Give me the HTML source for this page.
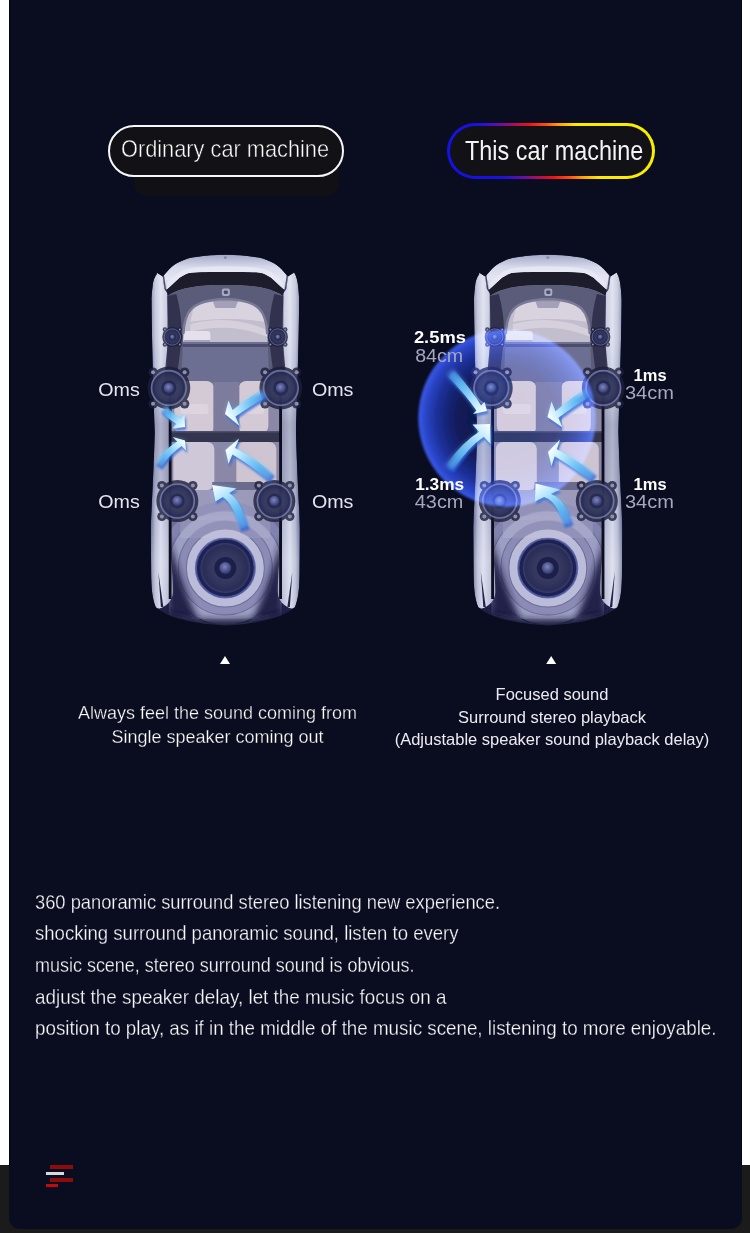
<!DOCTYPE html>
<html><head><meta charset="utf-8">
<style>
*{margin:0;padding:0;box-sizing:border-box}
html,body{width:750px;height:1233px;overflow:hidden;background:#1b1b1b;font-family:"Liberation Sans",sans-serif}
#wl{position:absolute;left:0;top:0;width:9px;height:1165px;background:#fff}
#wr{position:absolute;left:742px;top:0;width:8px;height:1165px;background:#fff}
#panel{position:absolute;left:9px;top:0;width:733px;height:1229px;background:#0a0c1f;border-radius:0 0 11px 11px;overflow:hidden}
.abs{position:absolute}
.t{position:absolute;white-space:nowrap;color:#eceaf2}
</style></head>
<body>
<div id="wl"></div><div id="wr"></div>
<div id="panel"></div>
<div class="abs" style="left:9px;top:0;width:1px;height:1165px;background:#030414"></div><div class="abs" style="left:741px;top:0;width:1px;height:1165px;background:#030414"></div>
<div class="abs" style="left:0;top:0;width:750px;height:1233px">
  <!-- pills -->
  <div class="abs" style="left:134px;top:165px;width:205px;height:31px;background:#111115;border-radius:0 0 13px 13px;filter:blur(0.6px)"></div>
  <div class="abs" style="left:108px;top:125px;width:236px;height:51.5px;border:2.8px solid #f8f8fa;border-radius:26px;background:#121216"></div>
  <div class="t" id="p1" style="left:121px;top:135px;font-size:24px;color:#ffffff;transform:scaleX(0.907);-webkit-text-stroke:0.5px #121216;transform-origin:0 0">Ordinary car machine</div>
  <div class="abs" style="left:447px;top:122.5px;width:208px;height:56px;border-radius:28px;background:linear-gradient(66deg,#1212e4 0%,#1a12dc 24%,#5a10b0 32%,#b01050 40%,#ec1418 46%,#ff5010 53%,#ffa800 59%,#ffe800 66%,#f6f000 100%)"></div>
  <div class="abs" style="left:450px;top:125.5px;width:202px;height:50px;border-radius:25px;background:#121216"></div>
  <div class="t" id="p2" style="left:465px;top:134.5px;font-size:27.5px;color:#f4f4f6;transform:scaleX(0.851);transform-origin:0 0">This car machine</div>
<!--CAR--><svg class="abs" style="left:0;top:0" width="750" height="700" viewBox="0 0 750 700">
<defs>
  <linearGradient id="sideL" x1="0" y1="0" x2="1" y2="0">
    <stop offset="0" stop-color="#6a7098"/>
    <stop offset="0.2" stop-color="#b4b8d2"/>
    <stop offset="0.45" stop-color="#d6d9ea"/>
    <stop offset="0.75" stop-color="#b6bad4"/>
    <stop offset="1" stop-color="#9296b8"/>
  </linearGradient>
  <linearGradient id="sideR" x1="1" y1="0" x2="0" y2="0">
    <stop offset="0" stop-color="#6a7098"/>
    <stop offset="0.2" stop-color="#b4b8d2"/>
    <stop offset="0.45" stop-color="#d6d9ea"/>
    <stop offset="0.75" stop-color="#b6bad4"/>
    <stop offset="1" stop-color="#9296b8"/>
  </linearGradient>
  <linearGradient id="sidev" x1="0" y1="0" x2="0" y2="1">
    <stop offset="0" stop-color="#ffffff" stop-opacity="0.3"/>
    <stop offset="0.2" stop-color="#ffffff" stop-opacity="0.22"/>
    <stop offset="0.3" stop-color="#ffffff" stop-opacity="0"/>
    <stop offset="0.34" stop-color="#3a3e66" stop-opacity="0"/>
    <stop offset="0.45" stop-color="#3a3e66" stop-opacity="0.26"/>
    <stop offset="0.62" stop-color="#3a3e66" stop-opacity="0.2"/>
    <stop offset="0.7" stop-color="#3a3e66" stop-opacity="0"/>
    <stop offset="0.74" stop-color="#ffffff" stop-opacity="0"/>
    <stop offset="0.86" stop-color="#ffffff" stop-opacity="0.22"/>
    <stop offset="1" stop-color="#ffffff" stop-opacity="0.12"/>
  </linearGradient>
  <linearGradient id="hood" x1="0" y1="0" x2="0" y2="1">
    <stop offset="0" stop-color="#a4a8c6"/>
    <stop offset="0.35" stop-color="#d6d9ea"/>
    <stop offset="0.7" stop-color="#e4e6f2"/>
    <stop offset="1" stop-color="#b8bcd6"/>
  </linearGradient>
  <radialGradient id="cone" cx="0.5" cy="0.5" r="0.5">
    <stop offset="0" stop-color="#464a74"/>
    <stop offset="0.6" stop-color="#383c64"/>
    <stop offset="0.9" stop-color="#2c3058"/>
    <stop offset="1" stop-color="#40447a"/>
  </radialGradient>
  <radialGradient id="cap" cx="0.45" cy="0.4" r="0.6">
    <stop offset="0" stop-color="#7e86c0"/>
    <stop offset="1" stop-color="#30356a"/>
  </radialGradient>
  <radialGradient id="subr" cx="0.5" cy="0.5" r="0.5">
    <stop offset="0" stop-color="#c4c4e0"/>
    <stop offset="0.45" stop-color="#c4c4e0"/>
    <stop offset="0.55" stop-color="#a4a4c8"/>
    <stop offset="0.7" stop-color="#b0b0d2"/>
    <stop offset="0.85" stop-color="#9494bc"/>
    <stop offset="1" stop-color="#8e8eb4" stop-opacity="0"/>
  </radialGradient>
  <linearGradient id="rear" x1="0" y1="0" x2="0" y2="1">
    <stop offset="0" stop-color="#6a6c9a" stop-opacity="0"/>
    <stop offset="0.5" stop-color="#3c3e70"/>
    <stop offset="1" stop-color="#22244a"/>
  </linearGradient>
  <filter id="soft" x="0" y="0" width="100%" height="100%"><feGaussianBlur stdDeviation="0.45"/></filter>
  <filter id="rb" x="-20%" y="-20%" width="140%" height="140%"><feGaussianBlur stdDeviation="3"/></filter>
  <clipPath id="carclip"><path d="M6.2 18.6 L12.4 22.6 L18.8 15.2 C22 12 25 9.5 29.5 7.7 C35 5 40 3.5 45.5 3 C55 1.5 65 0.8 75 0.8 C85 0.8 95 1.5 104.5 3 C110 3.5 115 5 120.5 7.7 C125 9.5 128 12 131.2 15.2 L137.6 22.6 L143.8 18.6 C146 22 147 27 147.5 30 C148.5 38 148.8 44 148.8 46 C148.6 80 147.5 120 145.6 178 C147 230 149.5 260 149.5 276 L149.2 320 C149 335 148 345 144.5 353 C135 362 115 369 75 371.5 C35 369 15 362 5.5 353 C2 345 1 335 0.8 320 L0.5 276 C0.5 260 3 230 4.4 178 C2.5 120 1.4 80 1.2 46 C1.2 44 1.5 38 2.5 30 C3 27 4 23 6.5 20 Z"/></clipPath>
  <g id="spk">
    <g fill="#1c1e38" opacity="0.8">
      <circle r="21"/>
      <circle cx="-15.5" cy="-15.5" r="4.6"/><circle cx="15.5" cy="-15.5" r="4.6"/>
      <circle cx="-15.5" cy="15.5" r="4.6"/><circle cx="15.5" cy="15.5" r="4.6"/>
    </g>
    <g fill="#8c90b4"><circle cx="-15.5" cy="-15.5" r="2"/><circle cx="15.5" cy="-15.5" r="2"/><circle cx="-15.5" cy="15.5" r="2"/><circle cx="15.5" cy="15.5" r="2"/></g>
    <circle r="17" fill="url(#cone)" stroke="#7a80b4" stroke-width="1.6" opacity="0.8"/><circle r="14.5" fill="none" stroke="#262a54" stroke-width="1" opacity="0.6"/>
    <circle r="7.5" fill="#20244a" opacity="0.7"/><circle r="5" fill="url(#cap)"/>
  </g>
  <g id="car">
   <g clip-path="url(#carclip)"><g filter="url(#soft)">
    <rect x="0" y="0" width="150" height="372" fill="#24264a"/>
    <!-- cabin base -->
    <rect x="19" y="30" width="112" height="330" fill="#8a88a6"/>
    <!-- dashboard zone -->
    <path d="M30 44 C50 40 100 40 120 44 L124 90 L26 90 Z" fill="#c2bece"/>
    <path d="M44 50 C60 47 90 47 110 50 L114 68 C95 64 60 64 40 68 Z" fill="#d8d3de"/>
    <path d="M62 46 L88 46 L85 54 L65 54 Z" fill="#8e8aa6" opacity="0.7"/>
    <path d="M40 70 C70 62 100 66 124 80 L124 86 C100 74 70 70 40 78 Z" fill="#e2dce6" opacity="0.6"/>
    <rect x="33" y="77" width="27" height="13" rx="3" fill="#e4e1ec"/>
    <rect x="33" y="86" width="27" height="4" rx="1" fill="#a8a6be"/>
    <!-- roof/headrest zone -->
    <path d="M24 88 L126 88 L126 124 C110 136 100 137 75 137 C50 137 40 136 24 124 Z" fill="#6c6e92"/>
    <rect x="24" y="90" width="102" height="3" fill="#4c4c6a"/>
    <!-- front seats -->
    <rect x="24" y="127" width="40" height="53" rx="8" fill="#d4cad6"/>
    <rect x="88" y="127" width="30" height="53" rx="8" fill="#d4cad6"/>
    <rect x="63" y="128" width="26" height="50" fill="#7e7c9c"/>
    <rect x="30" y="150" width="28" height="10" rx="3" fill="#e0dae4" opacity="0.7"/>
    <rect x="92" y="150" width="22" height="10" rx="3" fill="#e0dae4" opacity="0.7"/>
    <!-- rear seats -->
    <rect x="23" y="188" width="41" height="48" rx="7" fill="#cec8d8"/>
    <rect x="86" y="188" width="40" height="46" rx="7" fill="#cec4d2"/>
    <path d="M62 228 L112 228 L112 250 L60 250 Z" fill="#6a6a8c"/>
    <!-- rear zone -->
    <rect x="19" y="250" width="112" height="115" fill="#6c6e98"/>
    <rect x="19" y="236" width="112" height="30" fill="#9c9abb"/>
    <rect x="30" y="262" width="90" height="22" fill="#b2b0ca" opacity="0.6"/>
    
    <circle cx="75" cy="314" r="62" fill="none" stroke="#8e8eb8" stroke-width="9" opacity="0.65"/>
    <circle cx="75" cy="314" r="52" fill="none" stroke="#aaaace" stroke-width="9" opacity="0.8"/>
    <circle cx="75" cy="314" r="43" fill="none" stroke="#9090ba" stroke-width="7" opacity="0.85"/>
    <circle cx="75" cy="314" r="34.5" fill="none" stroke="#c2c2de" stroke-width="8" opacity="0.92"/>
    <path d="M18 282 C26 310 34 338 48 366 L18 366 Z" fill="#1c1e44" opacity="0.95" filter="url(#rb)"/><path d="M132 282 C124 310 116 338 102 366 L132 366 Z" fill="#1c1e44" opacity="0.95" filter="url(#rb)"/>
    <path d="M0 350 C15 362 40 366 75 366 C110 366 135 362 150 350 L150 375 L0 375 Z" fill="#1a1c3c" filter="url(#rb)"/>
    <!-- B bar -->
    <rect x="19" y="177" width="112" height="11" fill="#33344e"/>
    <rect x="19" y="177" width="112" height="1.5" fill="#4e506c"/>
    <!-- side panels -->
    <path d="M6.2 18.6 L12.4 22.6 L14 35 L17.5 40 L19.5 60 L19.5 280 C20 300 22.5 320 22.5 338 C22.5 346 17 352 9 354.5 L5.5 354 C2 345 1 335 0.8 320 L0.5 276 C0.5 260 3 230 4.4 178 C2.5 120 1.4 80 1.2 46 C1.2 44 1.5 38 2.5 30 C3 27 4 23 6.5 20 Z" fill="url(#sideL)"/>
    <path d="M 143.8 18.6 L 137.6 22.6 L 136 35 L 132.5 40 L 130.5 60 L 130.5 280 C 130 300 127.5 320 127.5 338 C 127.5 346 133 352 141 354.5 L 144.5 354 C 148 345 149 335 149.2 320 L 149.5 276 C 149.5 260 147 230 145.6 178 C 147.5 120 148.6 80 148.8 46 C 148.8 44 148.5 38 147.5 30 C 147 27 146 22 143.8 18.6 Z" fill="url(#sideR)"/>
    <path d="M6.2 18.6 L12.4 22.6 L14 35 L17.5 40 L19.5 60 L19.5 280 C20 300 22.5 320 22.5 338 C22.5 346 17 352 9 354.5 L5.5 354 C2 345 1 335 0.8 320 L0.5 276 C0.5 260 3 230 4.4 178 C2.5 120 1.4 80 1.2 46 C1.2 44 1.5 38 2.5 30 C3 27 4 23 6.5 20 Z" fill="url(#sidev)"/><path d="M 143.8 18.6 L 137.6 22.6 L 136 35 L 132.5 40 L 130.5 60 L 130.5 280 C 130 300 127.5 320 127.5 338 C 127.5 346 133 352 141 354.5 L 144.5 354 C 148 345 149 335 149.2 320 L 149.5 276 C 149.5 260 147 230 145.6 178 C 147.5 120 148.6 80 148.8 46 C 148.8 44 148.5 38 147.5 30 C 147 27 146 22 143.8 18.6 Z" fill="url(#sidev)"/>
    <!-- rear notch creases -->
    <path d="M8 318 L13 353 L10.5 353 Z" fill="#22244a"/>
    <path d="M142 318 L137 353 L139.5 353 Z" fill="#22244a"/>
    <!-- hood -->
    <path d="M12.4 22.6 L18.8 15.2 C22 12 25 9.5 29.5 7.7 C35 5 40 3.5 45.5 3 C55 1.5 65 0.8 75 0.8 C85 0.8 95 1.5 104.5 3 C110 3.5 115 5 120.5 7.7 C125 9.5 128 12 131.2 15.2 L137.6 22.6 L136 35 L133.3 35.5 L120.5 23.7 C116 21 113 19.5 110 19 C100 18 90 17.9 75 17.9 C60 17.9 50 18 40 19 C37 19.5 34 21 29.5 23.7 L16.7 35.5 L14 35 Z" fill="url(#hood)"/>
    <path d="M12.2 20.8 L14.2 35 L15.6 35 L13.6 20.6 Z" fill="#4a4c6c"/><path d="M137.8 20.8 L135.8 35 L134.4 35 L136.4 20.6 Z" fill="#4a4c6c"/>
    <circle cx="75" cy="3.5" r="1.6" fill="#8a8eaa"/>
    <path d="M16 29 L29.5 18 C36 14 45 12.5 75 12.5 C105 12.5 114 14 120.5 18 L134 29 L133.3 35.5 L120.5 23.7 C116 21 113 19.5 110 19 C100 18 90 17.9 75 17.9 C60 17.9 50 18 40 19 C37 19.5 34 21 29.5 23.7 L16.7 35.5 Z" fill="#e8eaf4" opacity="0.85"/>
    <!-- cowl dark band -->
    <path d="M16.7 35.5 L29.5 23.7 C34 21 37 19.5 40 19 C50 18 60 17.9 75 17.9 C90 17.9 100 18 110 19 C113 19.5 116 21 120.5 23.7 L133.3 35.5 L133 42 C120 33 100 31 75 31 C50 31 30 33 17 42 Z" fill="#1b1c2c"/>
    <!-- windshield frame U -->
    <path d="M17 42 C30 33 50 31 75 31 C100 31 120 33 133 42 L133 126 L119 126 L117 80 C116 58 110 46 75 45 C40 46 34 58 33 80 L31 126 L17 126 Z" fill="#5a5b7a"/>
    <path d="M17 42 L26 40 C30 55 32 70 31 85 C30 100 27 115 26 130 L14 130 C15 110 17 95 18 82 C18 65 17 52 17 42 Z" fill="#2e2f4a" opacity="0.9"/>
    <path d="M133 42 L124 40 C120 55 118 70 119 85 C120 100 123 115 124 130 L136 130 C135 110 133 95 132 82 C132 65 133 52 133 42 Z" fill="#2e2f4a" opacity="0.9"/>
    <path d="M33 80 C34 58 40 46 75 45 C110 46 116 58 117 80" fill="none" stroke="#7a7a98" stroke-width="2.5"/>
    <rect x="71.5" y="34.5" width="8" height="7.5" rx="2" fill="#a8aac2"/>
    <rect x="73.5" y="36.5" width="4" height="3.5" rx="1" fill="#4a4c6a"/>
    <!-- door lines -->
    <rect x="18.4" y="140" width="2.8" height="205" fill="#08081a"/>
    <rect x="128.8" y="140" width="2.8" height="205" fill="#08081a"/>
   </g></g>
    <!-- speakers -->
    <use href="#spk" transform="translate(22 83) scale(0.48)"/>
    <use href="#spk" transform="translate(127.5 83) scale(0.48)"/>
    <use href="#spk" transform="translate(18.5 134) scale(1.02)"/>
    <use href="#spk" transform="translate(130.5 134) scale(1.02)"/>
    <use href="#spk" transform="translate(27 247)"/>
    <use href="#spk" transform="translate(124 247)"/>
    <!-- sub -->
    <circle cx="75" cy="314" r="29" fill="#1e2250" stroke="#4452a8" stroke-width="1.2"/>
    <circle cx="75" cy="314" r="25" fill="url(#cone)" opacity="0.8"/>
    <circle cx="75" cy="314" r="11" fill="#1c1f48"/>
    <circle cx="75" cy="314" r="6" fill="url(#cap)"/>
  </g>
</defs>
<use href="#car" transform="translate(150.35 254)"/>
<use href="#car" transform="translate(472.8 254)"/>

<defs>
 <radialGradient id="bcirc" cx="0.5" cy="0.5" r="0.5">
  <stop offset="0" stop-color="#0c1a80" stop-opacity="0.3"/>
  <stop offset="0.55" stop-color="#12249a" stop-opacity="0.42"/>
  <stop offset="0.78" stop-color="#1a34c0" stop-opacity="0.7"/>
  <stop offset="0.92" stop-color="#2644d8" stop-opacity="0.9"/>
  <stop offset="0.985" stop-color="#3050e2" stop-opacity="1"/>
  <stop offset="1" stop-color="#3050e2" stop-opacity="0.5"/>
 </radialGradient>
 <filter id="cblur"><feGaussianBlur stdDeviation="0.8"/></filter>
</defs>
<circle cx="507" cy="418" r="89" fill="url(#bcirc)" filter="url(#cblur)" style="mix-blend-mode:screen"/>
<defs><filter id="aglow" x="-50%" y="-50%" width="200%" height="200%"><feGaussianBlur stdDeviation="2"/></filter><filter id="ashadow" x="-50%" y="-50%" width="200%" height="200%"><feGaussianBlur stdDeviation="1.3"/></filter><linearGradient id="ag0" gradientUnits="userSpaceOnUse" x1="163.0" y1="408.0" x2="185.0" y2="427.0"><stop offset="0" stop-color="#5ab8f4" stop-opacity="0"/><stop offset="0.3" stop-color="#62c0f6" stop-opacity="0.8"/><stop offset="0.7" stop-color="#b4e6ff"/><stop offset="1" stop-color="#ffffff"/></linearGradient><linearGradient id="ag1" gradientUnits="userSpaceOnUse" x1="264.0" y1="393.0" x2="225.0" y2="414.0"><stop offset="0" stop-color="#5ab8f4" stop-opacity="0"/><stop offset="0.3" stop-color="#62c0f6" stop-opacity="0.8"/><stop offset="0.7" stop-color="#b4e6ff"/><stop offset="1" stop-color="#ffffff"/></linearGradient><linearGradient id="ag2" gradientUnits="userSpaceOnUse" x1="158.0" y1="465.0" x2="185.0" y2="440.5"><stop offset="0" stop-color="#5ab8f4" stop-opacity="0"/><stop offset="0.3" stop-color="#62c0f6" stop-opacity="0.8"/><stop offset="0.7" stop-color="#b4e6ff"/><stop offset="1" stop-color="#ffffff"/></linearGradient><linearGradient id="ag3" gradientUnits="userSpaceOnUse" x1="271.0" y1="477.0" x2="225.5" y2="450.0"><stop offset="0" stop-color="#5ab8f4" stop-opacity="0"/><stop offset="0.3" stop-color="#62c0f6" stop-opacity="0.8"/><stop offset="0.7" stop-color="#b4e6ff"/><stop offset="1" stop-color="#ffffff"/></linearGradient><linearGradient id="ag4" gradientUnits="userSpaceOnUse" x1="244.0" y1="528.0" x2="212.0" y2="485.0"><stop offset="0" stop-color="#5ab8f4" stop-opacity="0"/><stop offset="0.3" stop-color="#62c0f6" stop-opacity="0.8"/><stop offset="0.7" stop-color="#b4e6ff"/><stop offset="1" stop-color="#ffffff"/></linearGradient><linearGradient id="ag10" gradientUnits="userSpaceOnUse" x1="450.0" y1="372.0" x2="487.0" y2="411.0"><stop offset="0" stop-color="#5ab8f4" stop-opacity="0"/><stop offset="0.3" stop-color="#62c0f6" stop-opacity="0.8"/><stop offset="0.7" stop-color="#b4e6ff"/><stop offset="1" stop-color="#ffffff"/></linearGradient><linearGradient id="ag11" gradientUnits="userSpaceOnUse" x1="587.0" y1="393.0" x2="547.5" y2="417.0"><stop offset="0" stop-color="#5ab8f4" stop-opacity="0"/><stop offset="0.3" stop-color="#62c0f6" stop-opacity="0.8"/><stop offset="0.7" stop-color="#b4e6ff"/><stop offset="1" stop-color="#ffffff"/></linearGradient><linearGradient id="ag12" gradientUnits="userSpaceOnUse" x1="449.0" y1="468.0" x2="490.0" y2="424.0"><stop offset="0" stop-color="#5ab8f4" stop-opacity="0"/><stop offset="0.3" stop-color="#62c0f6" stop-opacity="0.8"/><stop offset="0.7" stop-color="#b4e6ff"/><stop offset="1" stop-color="#ffffff"/></linearGradient><linearGradient id="ag13" gradientUnits="userSpaceOnUse" x1="593.0" y1="477.0" x2="548.0" y2="452.0"><stop offset="0" stop-color="#5ab8f4" stop-opacity="0"/><stop offset="0.3" stop-color="#62c0f6" stop-opacity="0.8"/><stop offset="0.7" stop-color="#b4e6ff"/><stop offset="1" stop-color="#ffffff"/></linearGradient><linearGradient id="ag14" gradientUnits="userSpaceOnUse" x1="568.0" y1="524.0" x2="535.5" y2="483.5"><stop offset="0" stop-color="#5ab8f4" stop-opacity="0"/><stop offset="0.3" stop-color="#62c0f6" stop-opacity="0.8"/><stop offset="0.7" stop-color="#b4e6ff"/><stop offset="1" stop-color="#ffffff"/></linearGradient></defs>
<g id="arrowsL"><path d="M160.1 410.5 Q167.5 418.5 176.4 423.9 L172.5 428.5 L185.0 427.0 L184.5 414.5 L180.6 419.1 Q172.5 413.5 165.9 405.5 Z" fill="#1c52d0" opacity="0.75" filter="url(#ashadow)" transform="translate(1.2 2.6)"/><path d="M160.1 410.5 Q167.5 418.5 176.4 423.9 L172.5 428.5 L185.0 427.0 L184.5 414.5 L180.6 419.1 Q172.5 413.5 165.9 405.5 Z" fill="#7ad0ff" opacity="0.45" filter="url(#aglow)"/><path d="M160.1 410.5 Q167.5 418.5 176.4 423.9 L172.5 428.5 L185.0 427.0 L184.5 414.5 L180.6 419.1 Q172.5 413.5 165.9 405.5 Z" fill="url(#ag0)"/><path d="M261.7 389.3 Q246.1 399.5 232.6 409.9 L228.5 400.5 L225.0 414.0 L239.5 426.0 L235.4 416.6 Q249.9 406.5 266.3 396.7 Z" fill="#1c52d0" opacity="0.75" filter="url(#ashadow)" transform="translate(1.2 2.6)"/><path d="M261.7 389.3 Q246.1 399.5 232.6 409.9 L228.5 400.5 L225.0 414.0 L239.5 426.0 L235.4 416.6 Q249.9 406.5 266.3 396.7 Z" fill="#7ad0ff" opacity="0.45" filter="url(#aglow)"/><path d="M261.7 389.3 Q246.1 399.5 232.6 409.9 L228.5 400.5 L225.0 414.0 L239.5 426.0 L235.4 416.6 Q249.9 406.5 266.3 396.7 Z" fill="url(#ag1)"/><path d="M154.9 462.8 Q164.3 449.7 177.2 441.5 L172.8 437.0 L185.0 440.5 L186.0 450.5 L181.6 446.0 Q169.7 454.3 161.1 467.2 Z" fill="#1c52d0" opacity="0.75" filter="url(#ashadow)" transform="translate(1.2 2.6)"/><path d="M154.9 462.8 Q164.3 449.7 177.2 441.5 L172.8 437.0 L185.0 440.5 L186.0 450.5 L181.6 446.0 Q169.7 454.3 161.1 467.2 Z" fill="#7ad0ff" opacity="0.45" filter="url(#aglow)"/><path d="M154.9 462.8 Q164.3 449.7 177.2 441.5 L172.8 437.0 L185.0 440.5 L186.0 450.5 L181.6 446.0 Q169.7 454.3 161.1 467.2 Z" fill="url(#ag2)"/><path d="M273.8 473.6 Q252.0 456.6 235.1 447.9 L239.0 438.5 L225.5 450.0 L228.5 464.0 L232.4 454.6 Q248.0 463.4 268.2 480.4 Z" fill="#1c52d0" opacity="0.75" filter="url(#ashadow)" transform="translate(1.2 2.6)"/><path d="M273.8 473.6 Q252.0 456.6 235.1 447.9 L239.0 438.5 L225.5 450.0 L228.5 464.0 L232.4 454.6 Q248.0 463.4 268.2 480.4 Z" fill="#7ad0ff" opacity="0.45" filter="url(#aglow)"/><path d="M273.8 473.6 Q252.0 456.6 235.1 447.9 L239.0 438.5 L225.5 450.0 L228.5 464.0 L232.4 454.6 Q248.0 463.4 268.2 480.4 Z" fill="url(#ag3)"/><path d="M239.8 529.1 Q233.2 503.6 222.8 497.0 L215.5 501.5 L212.0 485.0 L236.5 488.5 L229.2 493.0 Q240.8 500.4 248.2 526.9 Z" fill="#1c52d0" opacity="0.75" filter="url(#ashadow)" transform="translate(1.2 2.6)"/><path d="M239.8 529.1 Q233.2 503.6 222.8 497.0 L215.5 501.5 L212.0 485.0 L236.5 488.5 L229.2 493.0 Q240.8 500.4 248.2 526.9 Z" fill="#7ad0ff" opacity="0.45" filter="url(#aglow)"/><path d="M239.8 529.1 Q233.2 503.6 222.8 497.0 L215.5 501.5 L212.0 485.0 L236.5 488.5 L229.2 493.0 Q240.8 500.4 248.2 526.9 Z" fill="url(#ag4)"/></g>
<g id="arrowsR"><path d="M446.7 375.0 Q467.2 396.7 476.4 410.5 L473.0 414.0 L487.0 411.0 L484.5 402.0 L481.1 405.5 Q472.8 391.3 453.3 369.0 Z" fill="#1c52d0" opacity="0.75" filter="url(#ashadow)" transform="translate(1.2 2.6)"/><path d="M446.7 375.0 Q467.2 396.7 476.4 410.5 L473.0 414.0 L487.0 411.0 L484.5 402.0 L481.1 405.5 Q472.8 391.3 453.3 369.0 Z" fill="#7ad0ff" opacity="0.45" filter="url(#aglow)"/><path d="M446.7 375.0 Q467.2 396.7 476.4 410.5 L473.0 414.0 L487.0 411.0 L484.5 402.0 L481.1 405.5 Q472.8 391.3 453.3 369.0 Z" fill="url(#ag10)"/><path d="M584.6 389.3 Q568.1 400.5 555.6 411.2 L551.5 401.5 L547.5 417.0 L562.5 427.5 L558.4 417.8 Q571.9 407.5 589.4 396.7 Z" fill="#1c52d0" opacity="0.75" filter="url(#ashadow)" transform="translate(1.2 2.6)"/><path d="M584.6 389.3 Q568.1 400.5 555.6 411.2 L551.5 401.5 L547.5 417.0 L562.5 427.5 L558.4 417.8 Q571.9 407.5 589.4 396.7 Z" fill="#7ad0ff" opacity="0.45" filter="url(#aglow)"/><path d="M584.6 389.3 Q568.1 400.5 555.6 411.2 L551.5 401.5 L547.5 417.0 L562.5 427.5 L558.4 417.8 Q571.9 407.5 589.4 396.7 Z" fill="url(#ag11)"/><path d="M445.4 465.5 Q463.1 441.4 479.2 431.8 L472.5 424.5 L490.0 424.0 L490.5 444.0 L483.8 436.7 Q468.9 446.6 452.6 470.5 Z" fill="#1c52d0" opacity="0.75" filter="url(#ashadow)" transform="translate(1.2 2.6)"/><path d="M445.4 465.5 Q463.1 441.4 479.2 431.8 L472.5 424.5 L490.0 424.0 L490.5 444.0 L483.8 436.7 Q468.9 446.6 452.6 470.5 Z" fill="#7ad0ff" opacity="0.45" filter="url(#aglow)"/><path d="M445.4 465.5 Q463.1 441.4 479.2 431.8 L472.5 424.5 L490.0 424.0 L490.5 444.0 L483.8 436.7 Q468.9 446.6 452.6 470.5 Z" fill="url(#ag12)"/><path d="M595.6 473.4 Q573.8 458.4 556.8 449.3 L560.0 439.5 L548.0 452.0 L551.5 466.0 L554.7 456.2 Q570.2 465.6 590.4 480.6 Z" fill="#1c52d0" opacity="0.75" filter="url(#ashadow)" transform="translate(1.2 2.6)"/><path d="M595.6 473.4 Q573.8 458.4 556.8 449.3 L560.0 439.5 L548.0 452.0 L551.5 466.0 L554.7 456.2 Q570.2 465.6 590.4 480.6 Z" fill="#7ad0ff" opacity="0.45" filter="url(#aglow)"/><path d="M595.6 473.4 Q573.8 458.4 556.8 449.3 L560.0 439.5 L548.0 452.0 L551.5 466.0 L554.7 456.2 Q570.2 465.6 590.4 480.6 Z" fill="url(#ag13)"/><path d="M563.8 525.2 Q557.2 501.5 544.1 497.1 L535.0 501.5 L535.5 483.5 L560.0 489.5 L550.9 493.9 Q564.8 498.5 572.2 522.8 Z" fill="#1c52d0" opacity="0.75" filter="url(#ashadow)" transform="translate(1.2 2.6)"/><path d="M563.8 525.2 Q557.2 501.5 544.1 497.1 L535.0 501.5 L535.5 483.5 L560.0 489.5 L550.9 493.9 Q564.8 498.5 572.2 522.8 Z" fill="#7ad0ff" opacity="0.45" filter="url(#aglow)"/><path d="M563.8 525.2 Q557.2 501.5 544.1 497.1 L535.0 501.5 L535.5 483.5 L560.0 489.5 L550.9 493.9 Q564.8 498.5 572.2 522.8 Z" fill="url(#ag14)"/></g>

<g font-family="Liberation Sans, sans-serif" text-anchor="middle">
 <g font-size="18" fill="#e6e4f0" lengthAdjust="spacingAndGlyphs">
  <text x="119" y="396" textLength="41.5" lengthAdjust="spacingAndGlyphs">Oms</text><text x="332.7" y="396" textLength="41.5" lengthAdjust="spacingAndGlyphs">Oms</text>
  <text x="119" y="508.2" textLength="41.5" lengthAdjust="spacingAndGlyphs">Oms</text><text x="332.7" y="508.2" textLength="41.5" lengthAdjust="spacingAndGlyphs">Oms</text>
 </g>
 <g font-size="17" font-weight="bold" fill="#ffffff">
  <text x="439.9" y="343" textLength="52" lengthAdjust="spacingAndGlyphs">2.5ms</text><text x="650.1" y="380.7" textLength="33" lengthAdjust="spacingAndGlyphs">1ms</text>
  <text x="439.7" y="489.6" textLength="49" lengthAdjust="spacingAndGlyphs">1.3ms</text><text x="650.1" y="489.6" textLength="33" lengthAdjust="spacingAndGlyphs">1ms</text>
 </g>
 <g font-size="17.5" fill="#a6a6be">
  <text x="439.2" y="361.8" textLength="48" lengthAdjust="spacingAndGlyphs">84cm</text><text x="649.4" y="399.2" textLength="49" lengthAdjust="spacingAndGlyphs">34cm</text>
  <text x="439.1" y="508.1" textLength="48.5" lengthAdjust="spacingAndGlyphs">43cm</text><text x="649.4" y="508.1" textLength="49" lengthAdjust="spacingAndGlyphs">34cm</text>
 </g>
</g>

</svg>
<!--/CAR-->
  <!-- triangles -->
  <svg class="abs" style="left:0;top:0" width="750" height="700">
    <polygon points="225,656 220,664 230,664" fill="#fff"/>
    <polygon points="551.2,656 546.2,664 556.2,664" fill="#fff"/>
  </svg>
  <!-- captions -->
  <div class="t" style="left:0;width:435px;top:701px;text-align:center;font-size:18px;line-height:24px;-webkit-text-stroke:0.3px #0a0c1f;color:#ffffff">Always feel the sound coming from<br>Single speaker coming out</div>
  <div class="t" style="left:352px;width:400px;top:683px;text-align:center;font-size:16.5px;line-height:22.5px">Focused sound<br>Surround stereo playback<br>(Adjustable speaker sound playback delay)</div>
  <!-- paragraph -->
  <svg id="para" class="abs" style="left:0;top:860px" width="750" height="200" viewBox="0 860 750 200"><g font-family="Liberation Sans, sans-serif" font-size="21" fill="#f8f8fc" stroke="#0a0c1f" stroke-width="0.3"><text x="35" y="908.8" textLength="465" lengthAdjust="spacingAndGlyphs">360 panoramic surround stereo listening new experience.</text><text x="35" y="940.4" textLength="423.5" lengthAdjust="spacingAndGlyphs">shocking surround panoramic sound, listen to every</text><text x="35" y="972.0" textLength="379.5" lengthAdjust="spacingAndGlyphs">music scene, stereo surround sound is obvious.</text><text x="35" y="1003.6" textLength="411.5" lengthAdjust="spacingAndGlyphs">adjust the speaker delay, let the music focus on a</text><text x="35" y="1035.2" textLength="681.5" lengthAdjust="spacingAndGlyphs">position to play, as if in the middle of the music scene, listening to more enjoyable.</text></g></svg>
  <!-- logo -->
  <div class="abs" style="left:50px;top:1165px;width:23px;height:4px;background:#8c0c0c"></div>
  <div class="abs" style="left:46px;top:1172px;width:18px;height:3px;background:#d8d8e0"></div>
  <div class="abs" style="left:50px;top:1178px;width:23px;height:4px;background:#8c0c0c"></div>
  <div class="abs" style="left:46px;top:1184px;width:12px;height:3px;background:#c40a0a"></div>
</div>
</body></html>
